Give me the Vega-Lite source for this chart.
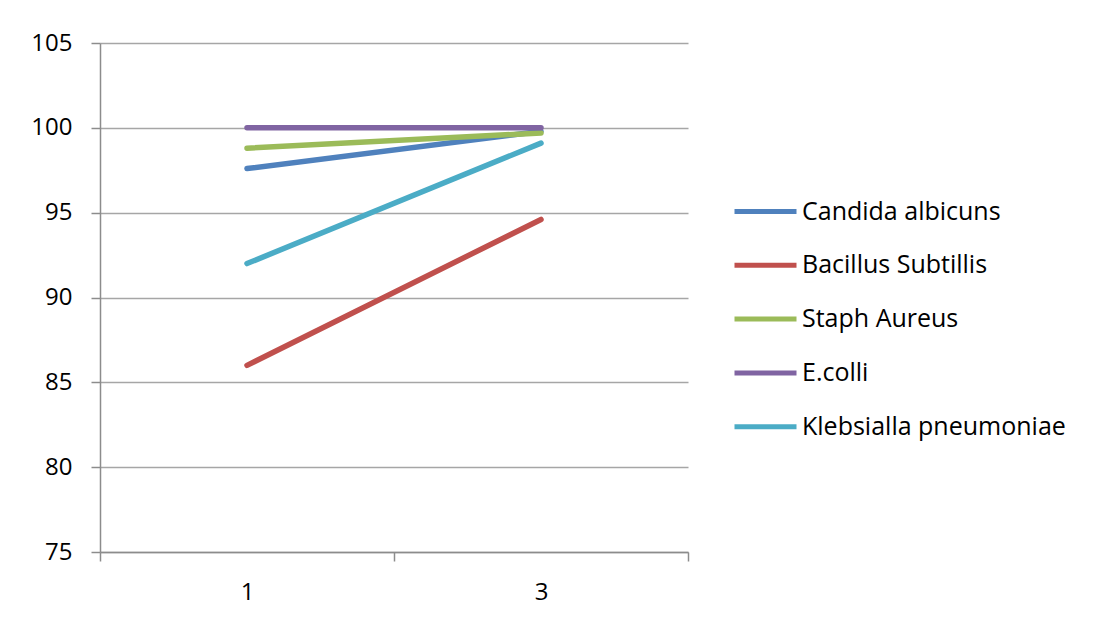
{
  "$schema": "https://vega.github.io/schema/vega-lite/v6.json",
  "autosize": "none",
  "width": 588,
  "height": 509,
  "padding": {"left": 100, "top": 43, "right": 422, "bottom": 69},
  "background": "white",
  "data": {
    "values": [
      {"organism": "Candida albicuns", "time": "1", "value": 97.6},
      {"organism": "Candida albicuns", "time": "3", "value": 99.8},
      {"organism": "Bacillus Subtillis", "time": "1", "value": 86.0},
      {"organism": "Bacillus Subtillis", "time": "3", "value": 94.6},
      {"organism": "Staph Aureus", "time": "1", "value": 98.8},
      {"organism": "Staph Aureus", "time": "3", "value": 99.7},
      {"organism": "E.colli", "time": "1", "value": 100.0},
      {"organism": "E.colli", "time": "3", "value": 100.0},
      {"organism": "Klebsialla pneumoniae", "time": "1", "value": 92.0},
      {"organism": "Klebsialla pneumoniae", "time": "3", "value": 99.1}
    ]
  },
  "mark": {"type": "line", "strokeWidth": 5.5, "strokeCap": "round"},
  "encoding": {
    "x": {
      "field": "time",
      "type": "ordinal",
      "scale": {"paddingInner": 0, "paddingOuter": 0},
      "axis": {
        "title": null,
        "tickBand": "extent",
        "labelAngle": 0,
        "tickSize": 9,
        "labelPadding": 19,
        "grid": false
      }
    },
    "y": {
      "field": "value",
      "type": "quantitative",
      "scale": {"domain": [75, 105], "nice": false, "zero": false},
      "axis": {
        "title": null,
        "values": [75, 80, 85, 90, 95, 100, 105],
        "tickSize": 9,
        "labelPadding": 19,
        "grid": true
      }
    },
    "color": {
      "field": "organism",
      "type": "nominal",
      "scale": {
        "domain": ["Candida albicuns", "Bacillus Subtillis", "Staph Aureus", "E.colli", "Klebsialla pneumoniae"],
        "range": ["#4F81BD", "#C0504D", "#9BBB59", "#8064A2", "#4BACC6"]
      },
      "legend": {
        "title": null,
        "orient": "none",
        "legendX": 632,
        "legendY": 135,
        "padding": 0,
        "symbolType": "stroke",
        "symbolSize": 3844,
        "symbolStrokeWidth": 5,
        "labelOffset": 3,
        "rowPadding": 6.8,
        "labelLimit": 400
      }
    }
  },
  "config": {
    "view": {"stroke": null},
    "font": "Open Sans",
    "axis": {
      "labelFont": "Open Sans",
      "labelFontSize": 24,
      "labelColor": "#000000",
      "domainColor": "#8c8c8c",
      "domainWidth": 1.5,
      "tickColor": "#8c8c8c",
      "tickWidth": 1.5,
      "gridColor": "#a6a6a6",
      "gridWidth": 1.5
    },
    "legend": {
      "labelFont": "Open Sans",
      "labelFontSize": 25,
      "labelColor": "#000000"
    }
  }
}
